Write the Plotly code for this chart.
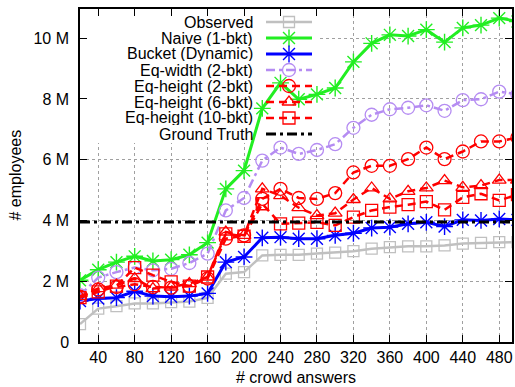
import plotly.graph_objects as go

# ---------------- data (values in millions) ----------------
crowd_answers = [20, 40, 60, 80, 100, 120, 140, 160, 180, 200, 220, 240, 260,
                 280, 300, 320, 340, 360, 380, 400, 420, 440, 460, 480, 500]

observed = [0.59, 1.10, 1.18, 1.27, 1.27, 1.31, 1.33, 1.45, 2.25, 2.30, 2.85, 2.87, 2.87,
            2.91, 2.94, 2.99, 3.07, 3.12, 3.15, 3.15, 3.18, 3.24, 3.26, 3.29, 3.29]
naive_1bkt = [2.03, 2.38, 2.63, 2.82, 2.67, 2.71, 2.87, 3.27, 5.04, 5.64, 7.69, 8.53, 7.99,
              8.15, 8.36, 9.22, 9.83, 10.11, 10.07, 10.28, 9.87, 10.34, 10.43, 10.66, 10.55]
bucket_dynamic = [1.35, 1.43, 1.46, 1.67, 1.51, 1.49, 1.51, 1.60, 2.63, 2.80, 3.43, 3.45, 3.40,
                  3.40, 3.51, 3.58, 3.75, 3.78, 3.89, 3.94, 3.80, 4.02, 4.00, 4.05, 4.02]
eq_width_2bkt = [1.54, 2.12, 2.30, 2.45, 2.36, 2.41, 2.60, 2.91, 4.33, 4.74, 5.97, 6.40, 6.19,
                 6.32, 6.51, 7.05, 7.48, 7.66, 7.71, 7.79, 7.61, 7.96, 7.99, 8.24, 8.15]
eq_height_2bkt = [1.49, 1.73, 1.81, 1.90, 1.81, 1.79, 1.84, 2.09, 3.40, 3.51, 4.71, 5.04, 4.74,
                  4.71, 4.90, 5.58, 5.80, 5.80, 6.02, 6.40, 6.02, 6.27, 6.60, 6.60, 6.73]
eq_height_6bkt = [1.50, 1.76, 1.87, 2.09, 1.76, 1.81, 1.92, 2.14, 3.62, 3.51, 5.04, 4.82, 4.42,
                  4.16, 4.24, 4.69, 5.07, 4.71, 4.96, 5.07, 5.31, 5.09, 5.15, 5.33, 5.33]
eq_height_10bkt = [1.46, 1.65, 1.84, 2.45, 2.20, 1.98, 1.84, 2.14, 3.56, 3.48, 4.55, 3.89, 3.91,
                   3.94, 3.84, 4.11, 4.33, 4.44, 4.52, 4.62, 4.35, 4.76, 4.88, 4.66, 4.85]
ground_truth = 3.95

x_ticks = [40, 80, 120, 160, 200, 240, 280, 320, 360, 400, 440, 480]
y_ticks = [0, 2, 4, 6, 8, 10]
y_tick_labels = ["0", "2 M", "4 M", "6 M", "8 M", "10 M"]

FONT = "Liberation Sans, Arial, Helvetica, sans-serif"

# ---------------- series styles ----------------
series = [
    ("Observed", observed, dict(color="#c0c0c0", width=2.5, dash="solid"),
     dict(symbol="square-open", size=11, color="#c0c0c0", line=dict(width=1.3, color="#c0c0c0"))),
    ("Naive (1-bkt)", naive_1bkt, dict(color="#22ee22", width=3, dash="solid"),
     dict(symbol="asterisk-open", size=14, color="#22ee22", line=dict(width=1.4, color="#22ee22"))),
    ("Bucket (Dynamic)", bucket_dynamic, dict(color="#0000ff", width=3, dash="solid"),
     dict(symbol="asterisk-open", size=14, color="#0000ff", line=dict(width=1.4, color="#0000ff"))),
    ("Eq-width (2-bkt)", eq_width_2bkt, dict(color="#b58cf2", width=2.5, dash="9px,4px,3px,4px"),
     dict(symbol="circle-open", size=13, color="#b58cf2", line=dict(width=1.3, color="#b58cf2"))),
    ("Eq-height (2-bkt)", eq_height_2bkt, dict(color="#ff0000", width=2.5, dash="8px,5px"),
     dict(symbol="circle-open", size=13, color="#ff0000", line=dict(width=1.3, color="#ff0000"))),
    ("Eq-height (6-bkt)", eq_height_6bkt, dict(color="#ff0000", width=2.5, dash="8px,5px"),
     dict(symbol="triangle-up-open", size=12, color="#ff0000", line=dict(width=1.3, color="#ff0000"))),
    ("Eq-height (10-bkt)", eq_height_10bkt, dict(color="#ff0000", width=2.5, dash="8px,5px"),
     dict(symbol="square-open", size=12, color="#ff0000", line=dict(width=1.3, color="#ff0000"))),
]
gt_line = dict(color="#000000", width=3, dash="10px,4px,3px,4px")

# ---------------- layout geometry (pixels) ----------------
W, H = 515, 387
PL, PR, PT, PB = 80, 512, 9, 342
X_RANGE = [20, 494]
Y_RANGE = [0, 10.96]


def px_to_x(px):
    return X_RANGE[0] + (px - PL) / (PR - PL) * (X_RANGE[1] - X_RANGE[0])


def py_to_y(py):
    return Y_RANGE[0] + (PB - py) / (PB - PT) * (Y_RANGE[1] - Y_RANGE[0])


def px_to_paper(px):
    return (px - PL) / (PR - PL)


def py_to_paper(py):
    return (PB - py) / (PB - PT)


fig = go.Figure()

for name, vals, line, marker in series:
    fig.add_trace(go.Scatter(x=crowd_answers, y=vals, mode="lines+markers", name=name,
                             line=line, marker=marker, showlegend=False))

fig.add_trace(go.Scatter(x=[crowd_answers[0], crowd_answers[-1]], y=[ground_truth, ground_truth],
                         mode="lines", name="Ground Truth", line=gt_line, showlegend=False))

# ---------------- manual gnuplot-style key (pixel overlay axes) ----------------
key_y0 = 22
key_dy = 16
annotations = []
for i, (name, vals, line, marker) in enumerate(series + [("Ground Truth", None, gt_line, None)]):
    ky = key_y0 + key_dy * i
    fig.add_trace(go.Scatter(x=[266, 312], y=[ky, ky], mode="lines", line=line,
                             xaxis="x2", yaxis="y2", showlegend=False, hoverinfo="skip"))
    if marker is not None:
        fig.add_trace(go.Scatter(x=[289], y=[ky], mode="markers", marker=marker,
                                 xaxis="x2", yaxis="y2", showlegend=False, hoverinfo="skip"))
    annotations.append(dict(x=px_to_paper(254), y=py_to_paper(ky), xref="paper", yref="paper",
                            text=name, showarrow=False, xanchor="right", yanchor="middle",
                            height=15, borderpad=0,
                            font=dict(family=FONT, size=16, color="#000000")))

annotations.append(dict(x=px_to_paper(15), y=0.5, xref="paper", yref="paper", text="# employees",
                        showarrow=False, textangle=-90, xanchor="center", yanchor="middle",
                        font=dict(family=FONT, size=16, color="#000000")))
annotations.append(dict(x=0.5, y=py_to_paper(377), xref="paper", yref="paper",
                        text="# crowd answers", showarrow=False, xanchor="center",
                        yanchor="middle", font=dict(family=FONT, size=16, color="#000000")))

fig.update_layout(
    width=W, height=H,
    margin=dict(l=PL, r=W - PR, t=PT, b=H - PB, pad=0, autoexpand=False),
    paper_bgcolor="white", plot_bgcolor="white",
    font=dict(family=FONT, size=16, color="#000000"),
    showlegend=False,
    xaxis=dict(range=X_RANGE, tickvals=x_ticks, ticks="inside", ticklen=7, tickwidth=1,
               tickcolor="#000000", showline=True, linecolor="#000000", linewidth=1.5,
               mirror="ticks", showgrid=True, gridcolor="#a0a0a0", griddash="dot",
               gridwidth=1, zeroline=False, tickfont=dict(family=FONT, size=16),
               automargin=False),
    yaxis=dict(range=Y_RANGE, tickvals=y_ticks, ticktext=y_tick_labels, ticks="inside",
               ticklen=7, tickwidth=1, tickcolor="#000000", showline=True,
               linecolor="#000000", linewidth=1.5, mirror="ticks", showgrid=True,
               gridcolor="#a0a0a0", griddash="dot", gridwidth=1, zeroline=False,
               tickfont=dict(family=FONT, size=16), automargin=False,
               ticklabelstandoff=6),
    xaxis2=dict(range=[PL, PR], overlaying="x", visible=False, anchor="y2"),
    yaxis2=dict(range=[PB, PT], overlaying="y", visible=False, anchor="x2"),
    shapes=[dict(type="rect", xref="x", yref="y", x0=px_to_x(PL), x1=px_to_x(318),
                 y0=py_to_y(143), y1=py_to_y(PT),
                 fillcolor="white", line=dict(width=0), layer="between")],
    annotations=annotations,
)

fig.write_html("out.html", config={"displayModeBar": False},
               post_script="document.body.style.margin='0px';document.body.style.padding='0px';")
